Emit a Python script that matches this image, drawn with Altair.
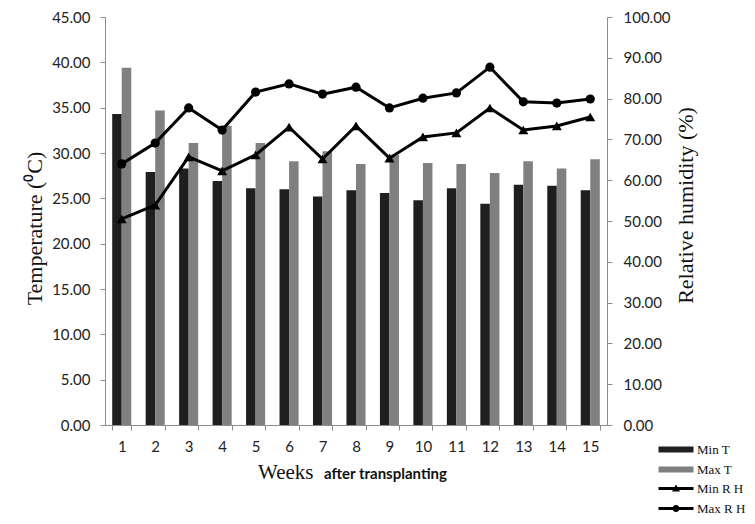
import altair as alt
import pandas as pd

weeks = list(range(1, 16))
min_t = [34.3, 27.9, 28.3, 26.9, 26.1, 26.0, 25.2, 25.9, 25.6, 24.8, 26.1, 24.4, 26.5, 26.4, 25.9]
max_t = [39.4, 34.7, 31.1, 33.0, 31.1, 29.1, 30.2, 28.8, 29.8, 28.9, 28.8, 27.8, 29.1, 28.3, 29.3]
min_rh = [50.5, 53.9, 65.7, 62.3, 66.2, 73.0, 65.2, 73.3, 65.4, 70.6, 71.6, 77.7, 72.3, 73.3, 75.5]
max_rh = [64.0, 69.1, 77.7, 72.3, 81.6, 83.6, 81.1, 82.8, 77.7, 80.1, 81.4, 87.7, 79.2, 78.9, 79.9]

temp_series = ["Min T", "Max T"]
rh_series = ["Min R H", "Max R H"]
temp_ticks = [0, 5, 10, 15, 20, 25, 30, 35, 40, 45]
rh_ticks = [0, 10, 20, 30, 40, 50, 60, 70, 80, 90, 100]

df_t = pd.DataFrame({
    "week": weeks * 2,
    "series": [temp_series[0]] * 15 + [temp_series[1]] * 15,
    "value": min_t + max_t,
})
df_rh = pd.DataFrame({
    "week": weeks * 2,
    "series": [rh_series[0]] * 15 + [rh_series[1]] * 15,
    "value": min_rh + max_rh,
})

AX = "#8c8c8c"
LBL = "#222222"
TICKFONT = "Lato"
SERIF = "Liberation Serif"

x_enc = alt.X(
    "week:O", sort=weeks,
    scale=alt.Scale(paddingInner=0.43, paddingOuter=0.215),
    axis=alt.Axis(title=None, labelAngle=0, tickBand="extent", labelFont=TICKFONT,
                  labelFontSize=15, labelColor=LBL, labelPadding=9, tickSize=5,
                  tickColor=AX, domainColor=AX, grid=False),
)

rect_path = "M-1,-0.6H6V0.6H-1Z"
tri_path = "M-1,-0.3H6V0.3H-1ZM2.5,-0.8L3.3,0.6L1.7,0.6Z"
circ_path = "M-1,-0.3H6V0.3H-1ZM1.8,0A0.7,0.7,0,1,1,3.2,0A0.7,0.7,0,1,1,1.8,0Z"

bars = alt.Chart(df_t).mark_bar().encode(
    x=x_enc,
    xOffset=alt.XOffset("series:N", sort=temp_series,
                        scale=alt.Scale(domain=temp_series, paddingInner=0, paddingOuter=0)),
    y=alt.Y("value:Q", scale=alt.Scale(domain=[0, 45], nice=False),
            axis=alt.Axis(orient="left", values=temp_ticks, format=".2f",
                          title="Temperature (⁰C)", titleFont=SERIF, titleFontSize=22,
                          titleFontWeight="normal", titleColor="#111111", titlePadding=5,
                          titleY=211, labelFont=TICKFONT, labelFontSize=15, labelColor=LBL,
                          labelPadding=10, tickSize=5, tickColor=AX, domainColor=AX,
                          grid=False)),
    fill=alt.Fill("series:N", scale=alt.Scale(domain=temp_series, range=["#1f1f1f", "#808080"]),
                  legend=alt.Legend(title=None, orient="none", legendX=552, legendY=426,
                                    symbolType=rect_path, symbolSize=100, labelFont=SERIF,
                                    labelFontSize=13, labelColor="#111111", labelOffset=27,
                                    rowPadding=6, padding=0, symbolStrokeWidth=0)),
)

rh_y = alt.Y("value:Q", scale=alt.Scale(domain=[0, 100], nice=False),
             axis=alt.Axis(orient="right", values=rh_ticks, format=".2f",
                           title="Relative humidity (%)", titleFont=SERIF, titleFontSize=22,
                           titleFontWeight="normal", titleColor="#111111", titleAngle=270,
                           titleBaseline="top", titlePadding=5, titleY=188,
                           labelFont=TICKFONT, labelFontSize=15, labelColor=LBL,
                           labelPadding=11, tickSize=5, tickColor=AX, domainColor=AX,
                           grid=False))

rh_base = alt.Chart(df_rh).encode(x=alt.X("week:O", sort=weeks), y=rh_y)
lines = rh_base.mark_line(color="black", strokeWidth=3).encode(detail="series:N")
pts_min = rh_base.transform_filter("datum.series == 'Min R H'").mark_point(
    shape="triangle-up", filled=True, color="black", size=100, opacity=1)
pts_max = rh_base.transform_filter("datum.series == 'Max R H'").mark_point(
    shape="circle", filled=True, color="black", size=85, opacity=1)
rh_layer = alt.layer(lines, pts_min, pts_max)

legend_layer = alt.Chart(df_rh).transform_filter("datum.week < 0").mark_point(
    filled=True, color="black", size=100, opacity=1
).encode(
    shape=alt.Shape("series:N", scale=alt.Scale(domain=rh_series, range=[tri_path, circ_path]),
                    legend=alt.Legend(title=None, orient="none", legendX=552, legendY=465,
                                      symbolSize=100, symbolStrokeWidth=0,
                                      symbolFillColor="black",
                                      labelFont=SERIF, labelFontSize=13, labelColor="#111111",
                                      labelOffset=27, rowPadding=6, padding=0)),
)

weeks_text = alt.Chart(pd.DataFrame({"label": ["Weeks"]})).mark_text(
    align="left", baseline="alphabetic", font=SERIF, fontSize=21, color="#111111"
).encode(text="label:N", x=alt.value(153), y=alt.value(462))

after_text = alt.Chart(pd.DataFrame({"label": ["after transplanting"]})).mark_text(
    align="left", baseline="alphabetic", font=TICKFONT, fontSize=15, fontWeight="bold",
    color="#111111"
).encode(text="label:N", x=alt.value(219), y=alt.value(462))

chart = alt.layer(bars, rh_layer, legend_layer, weeks_text, after_text).resolve_scale(
    y="independent"
).properties(
    width=502, height=408,
    padding={"left": 97, "top": 9, "right": 140, "bottom": 91},
    autosize=alt.AutoSizeParams(type="none"),
    background="white",
).configure_view(stroke=None)

chart.save("out.html", embed_options={"renderer": "svg", "actions": False})
